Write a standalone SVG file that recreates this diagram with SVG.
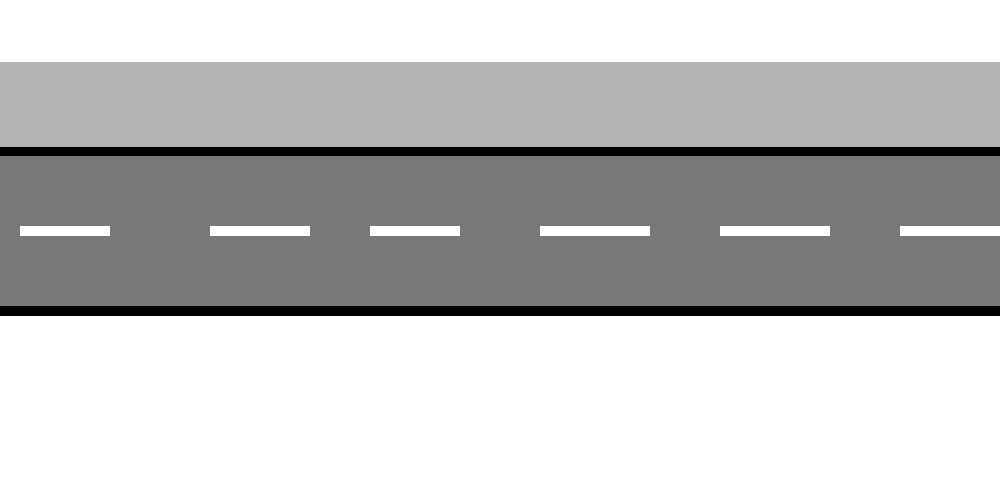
<svg xmlns="http://www.w3.org/2000/svg" width="1000" height="500" viewBox="0 0 1000 500">
<style>
.dash{fill:#ffffff}
.curb{fill:#000000}
</style>
<rect x="0" y="0" width="1000" height="500" fill="#ffffff"/>
<g id="sidewalk"><rect x="0" y="62" width="1000" height="85" fill="#b4b4b4"/></g>
<g id="road">
<rect x="0" y="156" width="1000" height="150" fill="#787878"/>
<rect class="curb" x="0" y="147" width="1000" height="9"/>
<rect class="curb" x="0" y="306" width="1000" height="10"/>
</g>
<g id="lane-markings">
<rect class="dash" x="20" y="226" width="90" height="10"/>
<rect class="dash" x="210" y="226" width="100" height="10"/>
<rect class="dash" x="370" y="226" width="90" height="10"/>
<rect class="dash" x="540" y="226" width="110" height="10"/>
<rect class="dash" x="720" y="226" width="110" height="10"/>
<rect class="dash" x="900" y="226" width="100" height="10"/>
</g>
</svg>
